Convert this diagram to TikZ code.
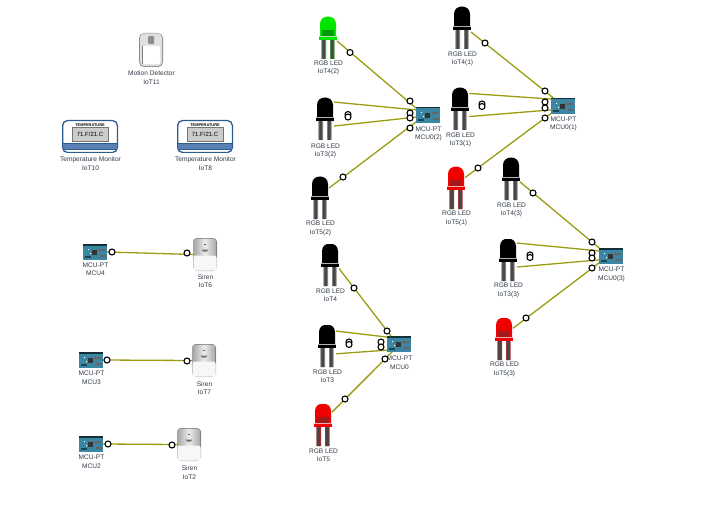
\documentclass[tikz,border=0pt]{standalone}
\usepackage{fontspec}
\setmainfont{Liberation Sans}
\usepackage{tikz}
\usetikzlibrary{calc,positioning}
\definecolor{wirecol}{HTML}{9C9C12}
\definecolor{labcol}{HTML}{2F3A46}
\definecolor{boardcol}{HTML}{3B86A2}
\definecolor{framecol}{HTML}{2B5C8E}
\definecolor{bandcol}{HTML}{5B80B4}

\newcommand{\ledshape}[3]{
  \begin{scope}[shift={(path picture bounding box.center)}]
    \fill[#3] (-6.7,1) rectangle (-2,21) (2,1) rectangle (6.7,21);
    \fill[black!72] (-5.6,1) rectangle (-3.1,21) (3.1,1) rectangle (5.6,21);
    \fill[#1] (-8,-1) -- (-8,-14) .. controls (-8,-24) and (8,-24) .. (8,-14) -- (8,-1) -- cycle;
    \fill[#2] (-6,-8) rectangle (6,-2);
    \fill[#1] (-9,-1.4) rectangle (9,1.6);
    \fill[white!70!#1] (-9,-2) rectangle (9,-1.2);
  \end{scope}}
\newcommand{\boardshape}{
  \begin{scope}[shift={(path picture bounding box.center)}]
    \fill[boardcol] (-12,-8) rectangle (12,8);
    \fill[black!65!boardcol] (-12,-8) rectangle (12,-6.5);
    \fill[black!80] (-3,-2) rectangle (2,3);
    \fill[black!60] (3,-3) rectangle (10,-1) (5,3) rectangle (11,5);
    \fill[white] (-7,-3) rectangle (-6,-2) (-5,1) rectangle (-4,2);
    \fill[black!50!boardcol] (-10,4) rectangle (-4,6);
  \end{scope}}
\newcommand{\sirenshape}{
  \begin{scope}[shift={(path picture bounding box.center)}]
    \fill[black!30, rounded corners=4pt] (-12,-16.5) rectangle (12,16.5);
    \fill[left color=black!35, right color=black!35, middle color=black!8, rounded corners=3pt] (-11.5,-16) rectangle (11.5,6);
    \fill[black!3, rounded corners=2pt] (-11.5,1) rectangle (11.5,16);
    \fill[black!60] (-.8,-10.8) rectangle (.8,-9.2);
    \fill[black!55] (-3.5,-5) -- (3.5,-5) -- (1.8,-3) -- (-1.8,-3) -- cycle;
  \end{scope}}
\newcommand{\motionshape}{
  \begin{scope}[shift={(path picture bounding box.center)}]
    \fill[black!45, rounded corners=5pt] (-12,-17) rectangle (12,17);
    \fill[black!12, rounded corners=4pt] (-11,-16.5) rectangle (11,16);
    \fill[black!45, rounded corners=1pt] (-3,-14) rectangle (3,-6);
    \fill[white, rounded corners=1pt] (-8,-4) rectangle (9,14);
    \draw[black!50] (-9,-4) -- (-9,14);
  \end{scope}}
\newcommand{\tempshape}{
  \begin{scope}[shift={(path picture bounding box.center)}]
    \fill[white, draw=framecol, line width=1.3pt, rounded corners=5pt] (-27.4,-16) rectangle (27.4,16);
    \fill[black!20, draw=black!55, line width=.4pt] (-18,-9) rectangle (18,5);
    \fill[bandcol] (-27,7) rectangle (27,13);
    \draw[framecol, line width=.8pt] (-27,7) -- (27,7) (-27,13) -- (27,13);
    \node[font=\bfseries\fontsize{3.9}{4}\selectfont, inner sep=0pt] (tempcap) at (0,-11.5) {TEMPERATURE};
    \node[font=\fontsize{6}{6}\selectfont, inner sep=0pt] (tempval) at (0,-2) {71.F/21.C};
  \end{scope}}

\begin{document}
\begin{tikzpicture}[x=1pt,y=-1pt,
  icon/.style={inner sep=0pt, outer sep=0pt},
  ledblack/.style={icon, minimum width=18pt, minimum height=42pt, path picture={\ledshape{black}{black}{black!50}}},
  ledred/.style={icon, minimum width=18pt, minimum height=42pt, path picture={\ledshape{red!95!black}{red!60!black!90}{red!50!black!80}}},
  ledgreen/.style={icon, minimum width=18pt, minimum height=42pt, path picture={\ledshape{green!90!black}{green!60!black}{green!40!black!70}}},
  board/.style={icon, minimum width=24pt, minimum height=16pt, path picture={\boardshape}},
  siren/.style={icon, minimum width=24pt, minimum height=33pt, path picture={\sirenshape}},
  motion/.style={icon, minimum width=24pt, minimum height=34pt, path picture={\motionshape}},
  tempmon/.style={icon, minimum width=56pt, minimum height=33pt, path picture={\tempshape}},
  lab/.style={font=\fontsize{6.6}{8.6}\selectfont, text=labcol, align=center, inner sep=0pt, yshift=-1.3pt, xshift=.5pt},
  wire/.style={draw=wirecol, line width=1.3pt},
  lamp/.style={circle, draw=black, fill=white, line width=1.1pt, minimum size=6pt, inner sep=0pt}]
\useasboundingbox (0,0) rectangle (723,524);
% end devices on the left
\node[motion] (pir) at (151,50) {};
\node[tempmon] (tempa) at (90,136.5) {};
\node[tempmon] (tempb) at (205,136.5) {};
\node[board] (mcufour) at (95,252) {};
\node[board] (mcuthree) at (91,360) {};
\node[board] (mcutwo) at (91,444) {};
\node[siren] (sirsix) at (205,254.5) {};
\node[siren] (sirseven) at (204,360.5) {};
\node[siren] (sirtwo) at (189,444.5) {};
\node[lab] (pirlab) at (151,76.5) {Motion Detector\\IoT11};
\node[lab] (tempalab) at (90,162.5) {Temperature Monitor\\IoT10};
\node[lab] (tempblab) at (205,162.5) {Temperature Monitor\\IoT8};
\node[lab] (mcufourlab) at (95,268) {MCU-PT\\MCU4};
\node[lab] (mcuthreelab) at (91,376.5) {MCU-PT\\MCU3};
\node[lab] (mcutwolab) at (91,460.5) {MCU-PT\\MCU2};
\node[lab] (sirsixlab) at (205,280) {Siren\\IoT6};
\node[lab] (sirsevenlab) at (204,387) {Siren\\IoT7};
\node[lab] (sirtwolab) at (189,471.5) {Siren\\IoT2};
% first cluster
\node[ledgreen] (ledfourb) at (328,38) {};
\node[ledblack] (ledthreeb) at (325,119) {};
\node[ledblack] (ledfiveb) at (320,198) {};
\node[board] (mcub) at (428,115) {};
\node[lab] (ledfourblab) at (328,66.5) {RGB LED\\IoT4(2)};
\node[lab] (ledthreeblab) at (325,149.5) {RGB LED\\IoT3(2)};
\node[lab] (ledfiveblab) at (320,227) {RGB LED\\IoT5(2)};
\node[lab] (mcublab) at (428,132.5) {MCU-PT\\MCU0(2)};
% second cluster
\node[ledblack] (ledfoura) at (462,28) {};
\node[ledblack] (ledthreea) at (460,109) {};
\node[ledred] (ledfivea) at (456,188) {};
\node[board] (mcua) at (563,106) {};
\node[lab] (ledfouralab) at (462,57.5) {RGB LED\\IoT4(1)};
\node[lab] (ledthreealab) at (460,138.5) {RGB LED\\IoT3(1)};
\node[lab] (ledfivealab) at (456,217) {RGB LED\\IoT5(1)};
\node[lab] (mcualab) at (563,122.5) {MCU-PT\\MCU0(1)};
% third cluster
\node[ledblack] (ledfourc) at (511,179) {};
\node[ledblack] (ledthreec) at (508,260) {};
\node[ledred] (ledfivec) at (504,339) {};
\node[board] (mcuc) at (611,256) {};
\node[lab] (ledfourclab) at (511,208.5) {RGB LED\\IoT4(3)};
\node[lab] (ledthreeclab) at (508,289) {RGB LED\\IoT3(3)};
\node[lab] (ledfiveclab) at (504,368) {RGB LED\\IoT5(3)};
\node[lab] (mcuclab) at (611,273) {MCU-PT\\MCU0(3)};
% fourth cluster
\node[ledblack] (ledfourd) at (330,265) {};
\node[ledblack] (ledthreed) at (327,346) {};
\node[ledred] (ledfived) at (323,425) {};
\node[board] (mcud) at (399,344) {};
\node[lab] (ledfourdlab) at (330,294) {RGB LED\\IoT4};
\node[lab] (ledthreedlab) at (327,375) {RGB LED\\IoT3};
\node[lab] (ledfivedlab) at (323,454) {RGB LED\\IoT5};
\node[lab] (mcudlab) at (399,361.5) {MCU-PT\\MCU0};
% links
\draw[wire] (mcufour.east) -- (sirsix.west);
\draw[wire] (mcuthree.east) -- (sirseven.west);
\draw[wire] (mcutwo.east) -- (sirtwo.west);
\draw[wire] (ledfourb.-18) -- (mcub.150);
\draw[wire] (ledthreeb.62) -- (mcub.157);
\draw[wire] (ledthreeb.-38) -- (mcub.190);
\draw[wire] (ledfiveb.48) -- (mcub.210);
\draw[wire] (ledfoura.-24) -- (mcua.140);
\draw[wire] (ledthreea.60) -- (mcua.150);
\draw[wire] (ledthreea.-40) -- (mcua.198);
\draw[wire] (ledfivea.49) -- (mcua.212);
\draw[wire] (ledfourc.-18) -- (mcuc.146);
\draw[wire] (ledthreec.62) -- (mcuc.157);
\draw[wire] (ledthreec.-38) -- (mcuc.198);
\draw[wire] (ledfivec.50) -- (mcuc.210);
\draw[wire] (ledfourd.-21) -- (mcud.135);
\draw[wire] (ledthreed.59) -- (mcud.150);
\draw[wire] (ledthreed.-41) -- (mcud.207);
\draw[wire] (ledfived.55) -- (mcud.229);
% link lights
\foreach \lx/\ly [count=\i] in {112/252,187/253,107/360,187/361,108/444,172/445,
    350/52.5,410/101,410/113,410/118,410/128,343/177,348/114.5,348/117,
    485/43,545/91,545/102,545/108,545/118,478/168,482/104,482/106.5,
    533/193,592/242,592/253,592/258,592/268,526/318,530/255,530/257.5,
    354/288,387/331,381/342,381/347,385/359,345/399,349/342,349/344.5}
  \node[lamp] (lamp\i) at (\lx,\ly) {};
\end{tikzpicture}
\end{document}
